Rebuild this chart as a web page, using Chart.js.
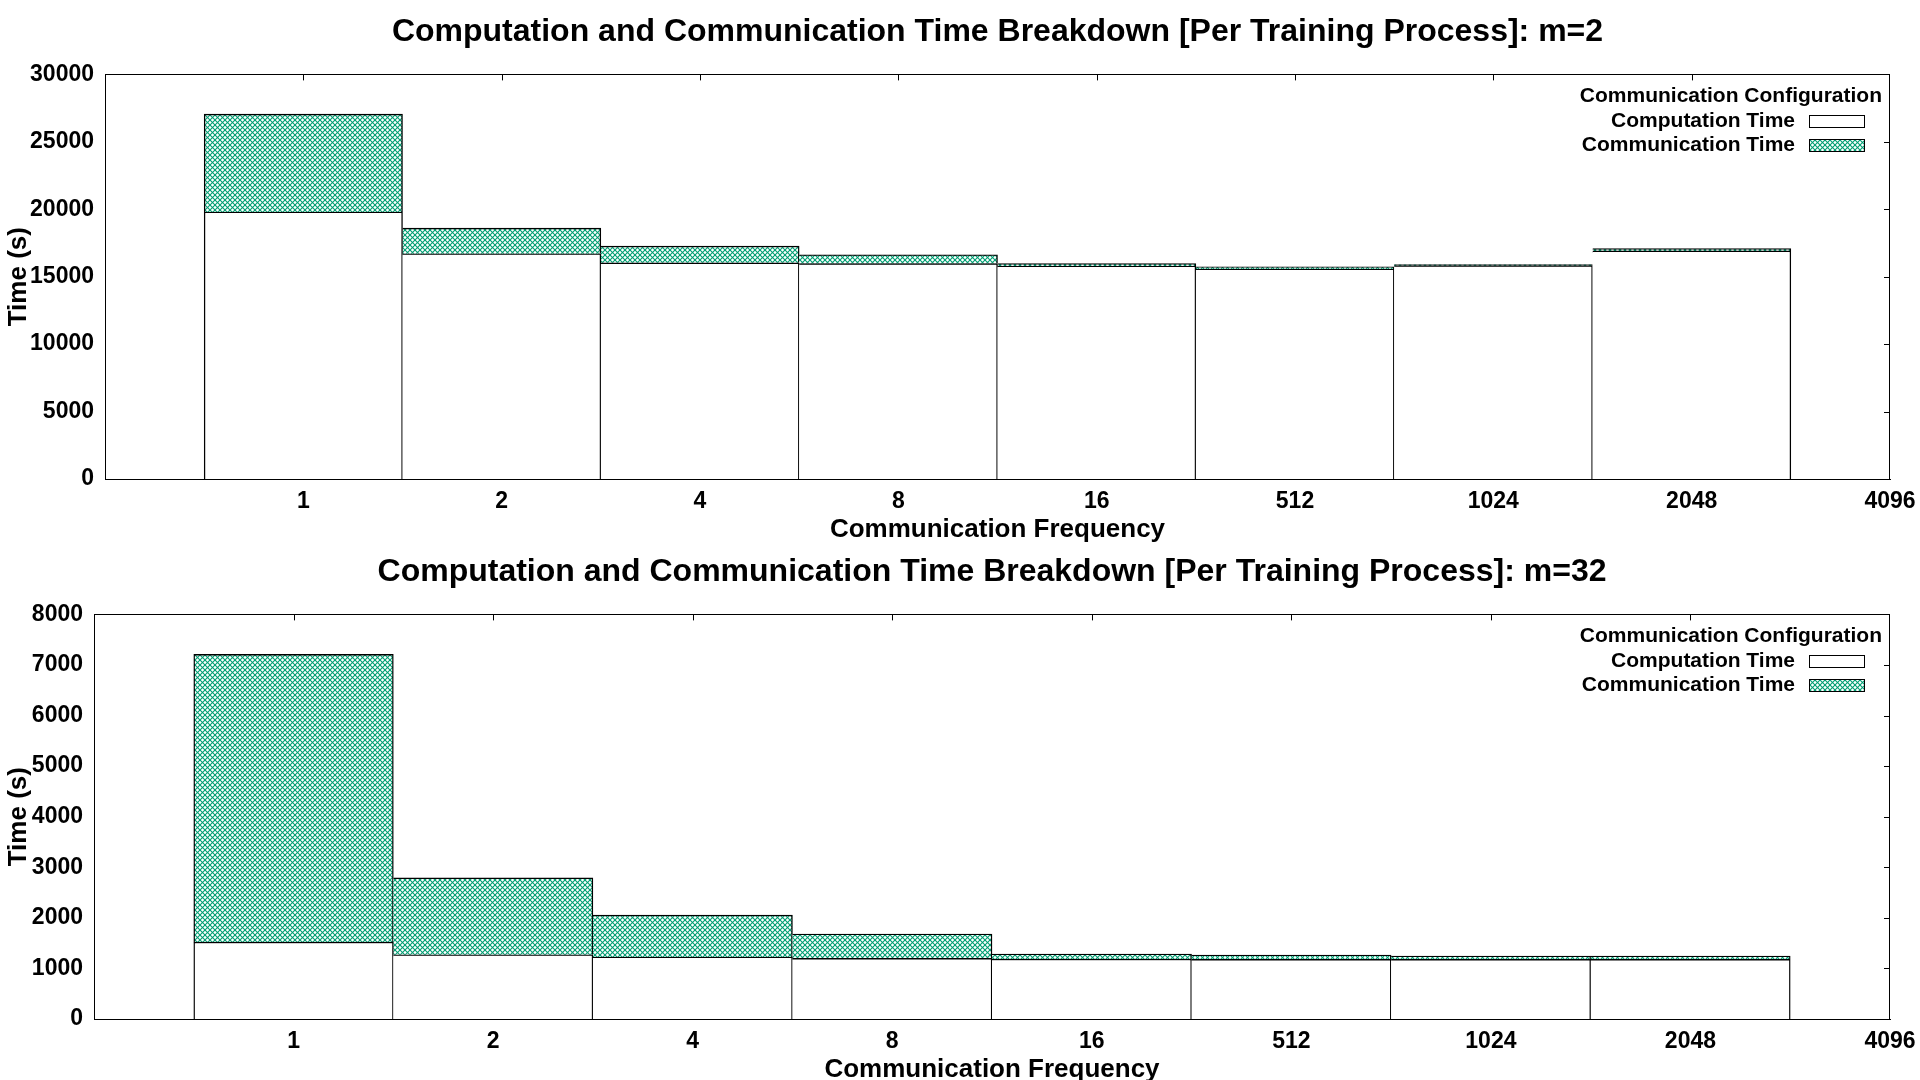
<!DOCTYPE html>
<html><head><meta charset="utf-8">
<script src="https://cdn.jsdelivr.net/npm/chart.js@4.4.1/dist/chart.umd.min.js"></script>
<style>html,body{margin:0;padding:0;background:#fff;overflow:hidden;}canvas{display:block;position:absolute;left:0;}
#c1{top:0;} #c2{top:540px;}</style>
</head><body>
<canvas id="c1" width="1920" height="560"></canvas>
<canvas id="c2" width="1920" height="540"></canvas>
<script>
// ---- data ----
const categories = ['1', '2', '4', '8', '16', '512', '1024', '2048'];
const endTickLabel = '4096';
const seriesNames = ['Computation Time', 'Communication Time'];
const legendTitle = 'Communication Configuration';
const titleM2 = 'Computation and Communication Time Breakdown [Per Training Process]: m=2';
const titleM32 = 'Computation and Communication Time Breakdown [Per Training Process]: m=32';
const xAxisTitle = 'Communication Frequency';
const yAxisTitle = 'Time (s)';
const m2Computation   = [19800, 16700, 16030, 15970, 15790, 15570, 15820, 16910];
const m2Communication = [ 7250,  1900,  1240,   660,   180,   170,    70,   170];
const m32Computation   = [1520, 1270, 1225, 1200, 1185, 1180, 1180, 1180];
const m32Communication = [5690, 1520,  830,  480,  100,   85,   65,   65];
const m2YTicks = [0, 30000, 5000];   // min, max, step
const m32YTicks = [0, 8000, 1000];

// ---- styling ----
const FONT = '"Liberation Sans", Arial, sans-serif';
Chart.defaults.font.family = FONT;
Chart.defaults.color = '#000';

function makeHatch() {
  const p = 5;
  const c = document.createElement('canvas');
  c.width = p; c.height = p;
  const g = c.getContext('2d');
  g.fillStyle = '#fff'; g.fillRect(0, 0, p, p);
  g.strokeStyle = '#009e73'; g.lineWidth = 1.1;
  for (const off of [-p, 0, p]) {
    g.beginPath(); g.moveTo(off - 1, -1); g.lineTo(off + p + 1, p + 1); g.stroke();
    g.beginPath(); g.moveTo(off + p + 1, -1); g.lineTo(off - 1, p + 1); g.stroke();
  }
  return g.createPattern(c, 'repeat');
}

const framePlugin = {
  id: 'gnuFrame',
  afterDraw(chart) {
    const {ctx, chartArea: a, scales} = chart;
    ctx.save();
    ctx.strokeStyle = '#000'; ctx.lineWidth = 1;
    ctx.strokeRect(Math.round(a.left) + 0.5, Math.round(a.top) + 0.5,
                   Math.round(a.right - a.left) - 1, Math.round(a.bottom - a.top));
    const tl = 6;
    ctx.beginPath();
    scales.x.ticks.forEach(t => {
      if (t.value < 0 || t.value >= categories.length) return;
      const x = Math.round(scales.x.getPixelForValue(t.value)) + 0.5;
      ctx.moveTo(x, a.top); ctx.lineTo(x, a.top + tl);
    });
    scales.y.ticks.forEach(t => {
      const y = Math.round(scales.y.getPixelForValue(t.value)) + 0.5;
      ctx.moveTo(a.right, y); ctx.lineTo(a.right - tl, y);
    });
    ctx.stroke();
    ctx.restore();
  }
};

const keyPlugin = {
  id: 'gnuKey',
  afterDatasetsDraw(chart) {
    const {ctx, chartArea: a} = chart;
    ctx.save();
    ctx.font = 'bold 21px ' + FONT;
    ctx.fillStyle = '#000'; ctx.textAlign = 'right'; ctx.textBaseline = 'middle';
    ctx.fillText(legendTitle, a.right - 8, a.top + 22);
    chart.data.datasets.forEach((ds, i) => {
      const y = a.top + 46.5 + i * 24.5;
      ctx.fillStyle = '#000';
      ctx.fillText(ds.label, a.right - 95, y);
      const bx = Math.round(a.right - 81), by = Math.round(y - 6);
      ctx.fillStyle = ds.backgroundColor;
      ctx.fillRect(bx, by, 55, 12);
      ctx.strokeStyle = '#000'; ctx.lineWidth = 1;
      ctx.strokeRect(bx + 0.5, by + 0.5, 55, 12);
    });
    ctx.restore();
  }
};

function build(canvasId, title, comp, comm, yTicks, yAxisWidth, bottomPad) {
  const hatch = makeHatch();
  const toPts = arr => arr.map((v, i) => ({x: i, y: v}));
  const w = 1.4;
  const bw = ctx => ({top: w, right: w, bottom: 0, left: ctx.dataIndex === 0 ? w : 0});
  return new Chart(document.getElementById(canvasId), {
    type: 'bar',
    data: {
      datasets: [
        {label: seriesNames[0], data: toPts(comp), backgroundColor: '#ffffff',
         borderColor: '#000', borderWidth: bw, borderSkipped: false,
         barPercentage: 1, categoryPercentage: 1},
        {label: seriesNames[1], data: toPts(comm), backgroundColor: hatch,
         borderColor: '#000', borderWidth: bw, borderSkipped: false,
         barPercentage: 1, categoryPercentage: 1}
      ]
    },
    options: {
      responsive: false, animation: false, devicePixelRatio: 1,
      layout: {padding: {left: 0, right: 30, top: 0, bottom: bottomPad}},
      plugins: {
        legend: {display: false},
        tooltip: {enabled: false},
        title: {display: true, text: title, fullSize: false,
                font: {size: 32, weight: 'bold', lineHeight: 1.2},
                color: '#000', padding: {top: 13, bottom: 23}}
      },
      scales: {
        x: {
          type: 'linear', stacked: true, min: -1, max: categories.length,
          offset: false,
          grid: {display: false, drawTicks: false},
          border: {display: true, color: '#000'},
          ticks: {stepSize: 1, autoSkip: false, maxRotation: 0, padding: 9,
                  font: {size: 23, weight: 'bold'}, color: '#000',
                  callback: v => (v >= 0 && v < categories.length) ? categories[v]
                                 : (v === categories.length ? endTickLabel : '')},
          title: {display: true, text: xAxisTitle, color: '#000',
                  font: {size: 26, weight: 'bold', lineHeight: 1},
                  padding: {top: 0, bottom: -3}},
          afterFit: s => { s.height = 61; s.paddingLeft = 0; s.paddingRight = 0; }
        },
        y: {
          stacked: true, min: yTicks[0], max: yTicks[1],
          grid: {display: false, drawTicks: false},
          border: {display: true, color: '#000'},
          ticks: {stepSize: yTicks[2], padding: 11,
                  font: {size: 23, weight: 'bold'}, color: '#000',
                  callback: v => String(v)},
          title: {display: true, text: yAxisTitle, color: '#000',
                  font: {size: 26, weight: 'bold', lineHeight: 1},
                  padding: {top: 6, bottom: 0}},
          afterFit: s => { s.width = yAxisWidth; s.paddingTop = 0; s.paddingBottom = 0; }
        }
      }
    },
    plugins: [keyPlugin, framePlugin]
  });
}

build('c1', titleM2, m2Computation, m2Communication, m2YTicks, 105, 20);
build('c2', titleM32, m32Computation, m32Communication, m32YTicks, 94, 0);
</script>
</body></html>
